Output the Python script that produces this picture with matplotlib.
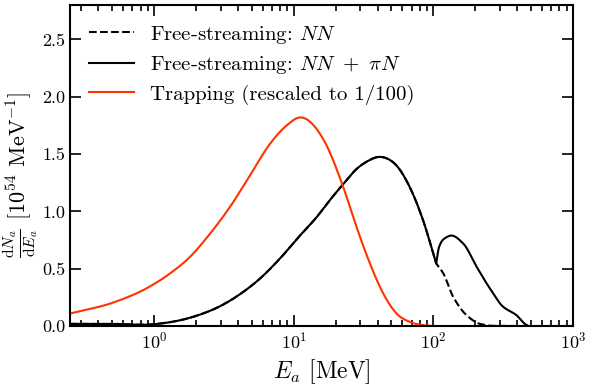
import matplotlib
matplotlib.use("Agg")
import matplotlib.pyplot as plt
import numpy as np

plt.rcParams["font.family"] = "serif"
plt.rcParams["font.serif"] = ["cmr10", "DejaVu Serif"]
plt.rcParams["mathtext.fontset"] = "cm"
plt.rcParams["axes.formatter.use_mathtext"] = True
plt.rcParams["axes.unicode_minus"] = False

# trapping spectrum (already rescaled to 1/100), energies in MeV
E_trap = [0.25, 0.51, 0.94, 1.30, 1.81, 2.52, 3.50, 4.87, 6.77, 8.91, 11.1, 16.3, 22.7, 28.2,
          35.2, 43.8, 54.6, 68, 85, 120, 200]
dN_trap = [0.11, 0.206, 0.348, 0.459, 0.604, 0.807, 1.04, 1.315, 1.59, 1.75, 1.82, 1.63, 1.21, 0.865,
           0.546, 0.285, 0.11, 0.037, 0.009, 0.0, 0.0]

# free-streaming, common part below the pion threshold
E_low = [0.25, 0.5, 1.0, 1.97, 2.97, 4.13, 5.74, 7.98, 11.1, 14.6, 18.2, 22.7, 28.2, 34, 40.3, 47, 54.6,
         68, 84.7, 105]
dN_low = [0.02, 0.02, 0.017, 0.087, 0.174, 0.279, 0.415, 0.59, 0.79, 0.95, 1.10, 1.24, 1.37, 1.44, 1.475,
          1.46, 1.40, 1.21, 0.92, 0.546]

# above threshold: NN + piN (solid)
E_all = [105, 110, 119, 135, 164, 204, 254, 316, 394, 453, 490, 1000]
dN_all = [0.546, 0.69, 0.76, 0.79, 0.72, 0.52, 0.33, 0.17, 0.096, 0.02, 0.0, 0.0]

# above threshold: NN only (dashed)
E_nn = [105, 118, 139, 173, 216, 268, 1000]
dN_nn = [0.546, 0.46, 0.255, 0.096, 0.02, 0.003, 0.0]


def smooth(x, y, n=400, monotone=True):
    # cubic Hermite interpolation in log(E)
    lx = np.log10(np.asarray(x, dtype=float))
    yy = np.asarray(y, dtype=float)
    h = np.diff(lx)
    d = np.diff(yy) / h
    if monotone:
        m = np.zeros_like(yy)
        m[0], m[-1] = d[0], d[-1]
        for i in range(1, len(yy) - 1):
            if d[i - 1] * d[i] > 0:
                w1 = 2 * h[i] + h[i - 1]
                w2 = h[i] + 2 * h[i - 1]
                m[i] = (w1 + w2) / (w1 / d[i - 1] + w2 / d[i])
    else:
        m = np.gradient(yy, lx)
    grid = np.linspace(lx[0], lx[-1], n)
    k = np.clip(np.searchsorted(lx, grid) - 1, 0, len(lx) - 2)
    t = (grid - lx[k]) / h[k]
    h00 = 2 * t**3 - 3 * t**2 + 1
    h10 = t**3 - 2 * t**2 + t
    h01 = -2 * t**3 + 3 * t**2
    h11 = t**3 - t**2
    out = h00 * yy[k] + h10 * h[k] * m[k] + h01 * yy[k + 1] + h11 * h[k] * m[k + 1]
    return 10**grid, np.clip(out, 0, None)


fig, ax = plt.subplots(figsize=(5.9, 3.86), dpi=100)
fig.subplots_adjust(left=0.1186, right=0.971, bottom=0.155, top=0.987)

x1, y1 = smooth(E_low, dN_low, monotone=False)
x2, y2 = smooth(E_all, dN_all)
x3, y3 = smooth(E_nn, dN_nn)

ax.plot(np.concatenate([x1, x3]), np.concatenate([y1, y3]), color="black", ls="--", lw=1.5,
        label=r"Free-streaming: $NN$")
ax.plot(np.concatenate([x1, x2]), np.concatenate([y1, y2]), color="black", lw=1.5,
        label=r"Free-streaming: $NN\ +\ \pi N$")
xt, yt = smooth(E_trap, dN_trap, monotone=False)
ax.plot(xt, yt, color="#ff3300", lw=1.5, label="Trapping (rescaled to 1/100)")

ax.set_xscale("log")
ax.set_xlim(0.25, 1000)
ax.set_ylim(0, 2.8)
ax.set_yticks([0, 0.5, 1.0, 1.5, 2.0, 2.5])
ax.set_yticklabels(["0.0", "0.5", "1.0", "1.5", "2.0", "2.5"])

ax.tick_params(which="both", direction="in", top=True, right=True, labelsize=13, width=1.2)
ax.tick_params(which="major", length=8)
ax.tick_params(which="minor", length=4)
for s in ax.spines.values():
    s.set_linewidth(1.5)

ax.set_xlabel(r"$E_a$ [MeV]", fontsize=17)
ax.set_ylabel(r"$\frac{\mathrm{d}N_a}{\mathrm{d}E_a}$ [$10^{54}$ MeV$^{-1}$]", fontsize=16)
ax.yaxis.set_label_coords(-0.06, 0.47)

ax.legend(loc="upper left", frameon=False, fontsize=15, handlelength=2.15, labelspacing=0.4,
          borderaxespad=0.5)

plt.savefig("out.png", dpi=100)
plt.close()
